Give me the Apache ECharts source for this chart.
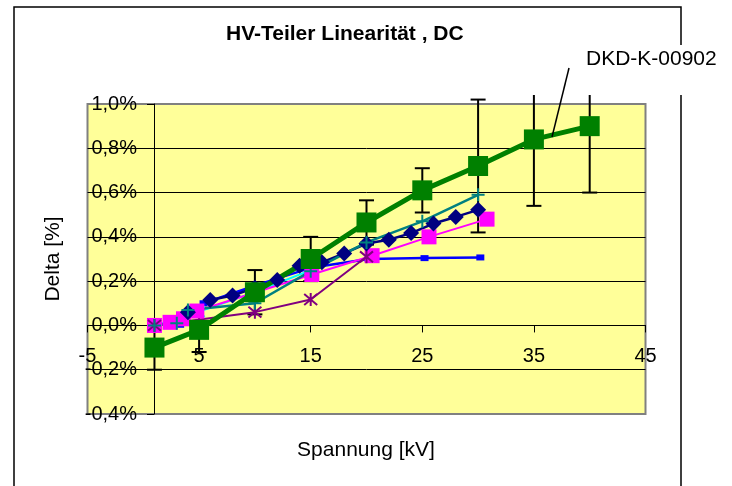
<!DOCTYPE html>
<html>
<head>
<meta charset="utf-8">
<script src="https://cdn.jsdelivr.net/npm/echarts@6/dist/echarts.min.js"></script>
<style>
  html, body { margin: 0; padding: 0; background: #fff; }
  #main { width: 732px; height: 486px; }
</style>
</head>
<body>
<div id="main"></div>
<script>
// Achse / Ticks
var xTicks = [-5, 5, 15, 25, 35, 45];
var yTicks = [-0.4, -0.2, 0.0, 0.2, 0.4, 0.6, 0.8, 1.0];

// DKD-K-00902 (Referenz mit Fehlerbalken)
var greenX   = [1, 5, 10, 15, 20, 25, 30, 35, 40];
var greenY   = [-0.10, -0.02, 0.15, 0.30, 0.465, 0.61, 0.72, 0.84, 0.90];
var greenErr = [0.1, 0.1, 0.1, 0.1, 0.1, 0.1, 0.3, 0.3, 0.3];

// weitere Messreihen
var navyX = [4, 6, 8, 10, 12, 14, 16, 18, 20, 22, 24, 26, 28, 30];
var navyY = [0.06, 0.115, 0.135, 0.17, 0.205, 0.27, 0.285, 0.325, 0.37, 0.387, 0.417, 0.46, 0.49, 0.522];

var tealX = [1, 3, 4, 10, 15, 20, 25, 30];
var tealY = [0, 0.01, 0.07, 0.10, 0.245, 0.375, 0.47, 0.59];

var cyanX = [1, 5, 10, 15];
var cyanY = [0, 0.063, 0.15, 0.25];

var pinkX = [1, 2.4, 3.6, 4.8, 15.1, 20.5, 25.6, 30.8];
var pinkY = [0, 0.014, 0.03, 0.065, 0.23, 0.315, 0.40, 0.48];

var blueX = [3.3, 4.4, 5.4, 10, 15, 20.2, 25.2, 30.2];
var blueY = [0.003, 0.056, 0.10, 0.18, 0.26, 0.30, 0.304, 0.307];

var purpleX = [1, 10, 15, 20];
var purpleY = [0, 0.06, 0.117, 0.31];

var FONT = 'Liberation Sans, Arial, sans-serif';

var GRID_TOP = 104, GRID_BOTTOM = 72, H = 486;
// x-Achse kreuzt bei 0 %, y-Achse bei 1 kV (wie im Excel-Diagramm)
var plotH = H - GRID_TOP - GRID_BOTTOM;
var zeroY = GRID_TOP + plotH * (yTicks[yTicks.length - 1] / (yTicks[yTicks.length - 1] - yTicks[0]));

function pairs(xs, ys) {
  return xs.map(function (x, i) { return [x, ys[i]]; });
}

var PLUS = 'path://M0,5 L10,5 M5,0 L5,10';
var CROSS = 'path://M0,0 L10,10 M10,0 L0,10';
var STAR = 'path://M0,0 L10,10 M10,0 L0,10 M5,-1 L5,11';

function lineSeries(name, xs, ys, color, width, symbol, size, stroked) {
  return {
    name: name,
    type: 'line',
    data: pairs(xs, ys),
    symbol: symbol,
    symbolSize: size,
    showSymbol: true,
    lineStyle: { color: color, width: width },
    itemStyle: stroked
      ? { color: 'none', borderColor: color, borderWidth: 2 }
      : { color: color, borderWidth: 0 },
    emphasis: { disabled: true }
  };
}

var chart = echarts.init(document.getElementById('main'), null, { renderer: 'canvas' });

var option = {
  animation: false,
  backgroundColor: '#fff',
  title: {
    text: 'HV-Teiler Linearität , DC',
    left: 226,
    top: 24,
    padding: 0,
    textStyle: { fontFamily: FONT, fontSize: 21, fontWeight: 'bold', color: '#000' }
  },
  grid: {
    left: 87.5, right: 86.5, top: GRID_TOP, bottom: GRID_BOTTOM,
    show: true,
    backgroundColor: '#FFFF99',
    borderColor: '#808080',
    borderWidth: 2
  },
  xAxis: {
    type: 'value',
    min: xTicks[0],
    max: xTicks[xTicks.length - 1],
    interval: 10,
    offset: -(H - GRID_BOTTOM - zeroY),
    axisLine: { onZero: false, lineStyle: { color: '#000', width: 1 } },
    axisTick: { show: true, inside: false, length: 7, lineStyle: { color: '#000' } },
    axisLabel: { margin: 21, color: '#000', fontFamily: FONT, fontSize: 20 },
    splitLine: { show: false }
  },
  yAxis: {
    type: 'value',
    min: yTicks[0],
    max: yTicks[yTicks.length - 1],
    interval: 0.2,
    offset: -66.5,
    axisLine: { show: true, onZero: false, lineStyle: { color: '#000', width: 1 } },
    axisTick: { show: true, inside: false, length: 7, lineStyle: { color: '#000' } },
    axisLabel: {
      margin: 17, color: '#000', fontFamily: FONT, fontSize: 20,
      formatter: function (v) {
        if (Math.abs(v) < 1e-9) v = 0;
        return v.toFixed(1).replace('.', ',') + '%';
      }
    },
    splitLine: { show: true, showMinLine: false, showMaxLine: false, lineStyle: { color: '#000', width: 1 } }
  },
  series: [
    lineSeries('blue', blueX, blueY, '#0000FF', 2.5, 'rect', [8, 6], false),
    lineSeries('cyan', cyanX, cyanY, '#00FFFF', 2, CROSS, 11, true),
    lineSeries('magenta', pinkX, pinkY, '#FF00FF', 2, 'rect', 15, false),
    lineSeries('purple', purpleX, purpleY, '#800080', 2, STAR, 13, true),
    lineSeries('navy', navyX, navyY, '#000080', 2.5, 'diamond', [16, 16], false),
    lineSeries('teal', tealX, tealY, '#008080', 2.5, PLUS, 13, true),
    {
      name: 'err',
      type: 'custom',
      clip: false,
      data: greenX.map(function (x, i) { return [x, greenY[i], greenErr[i]]; }),
      renderItem: function (params, api) {
        var x = api.value(0), y = api.value(1), e = api.value(2);
        var top = api.coord([x, y + e]);
        var bot = api.coord([x, y - e]);
        var w = 7.5;
        var st = { stroke: '#000', lineWidth: 2 };
        return {
          type: 'group',
          children: [
            { type: 'line', shape: { x1: top[0], y1: top[1], x2: bot[0], y2: bot[1] }, style: st },
            { type: 'line', shape: { x1: top[0] - w, y1: top[1], x2: top[0] + w, y2: top[1] }, style: st },
            { type: 'line', shape: { x1: bot[0] - w, y1: bot[1], x2: bot[0] + w, y2: bot[1] }, style: st }
          ]
        };
      }
    },
    lineSeries('DKD-K-00902', greenX, greenY, '#008000', 5, 'rect', 20, false)
  ],
  graphic: [
    {
      type: 'rect', z: 1,
      shape: { x: 14, y: 7, width: 667, height: 495 },
      style: { fill: 'none', stroke: '#000', lineWidth: 1.5 }
    },
    {
      type: 'rect', z: 50,
      shape: { x: 522, y: 45, width: 206, height: 50 },
      style: { fill: '#fff', stroke: 'none' }
    },
    {
      type: 'text', z: 51, left: 586, top: 49,
      style: { text: 'DKD-K-00902', fontFamily: FONT, fontSize: 21, fill: '#000' }
    },
    {
      type: 'line', z: 51,
      shape: { x1: 569, y1: 68, x2: 552, y2: 137 },
      style: { stroke: '#000', lineWidth: 1.5 }
    },
    {
      type: 'text', z: 51,
      x: 366, y: 450,
      style: { text: 'Spannung [kV]', fontFamily: FONT, fontSize: 21, fill: '#000', align: 'center', verticalAlign: 'middle' }
    },
    {
      type: 'text', z: 51,
      x: 53, y: 259, rotation: Math.PI / 2,
      style: { text: 'Delta [%]', fontFamily: FONT, fontSize: 21, fill: '#000', align: 'center', verticalAlign: 'middle' }
    }
  ]
};

chart.setOption(option);
</script>
</body>
</html>
